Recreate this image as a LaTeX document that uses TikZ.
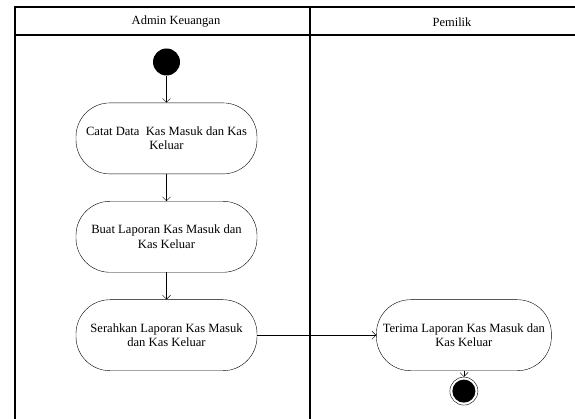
\documentclass[tikz,border=0pt]{standalone}
\usepackage{fontspec}
\setmainfont{Liberation Serif}
\usetikzlibrary{arrows.meta, positioning, shapes.geometric}

\begin{document}
\begin{tikzpicture}[x=1pt, y=-1pt, node distance=27pt,
    lane/.style={line width=2pt},
    lanetitle/.style={font=\fontsize{12.5}{14}\selectfont},
    activity/.style={rectangle, draw, rounded corners=34pt, minimum width=181pt, minimum height=71pt, align=center, inner sep=2pt, font=\fontsize{12.6}{14.3}\selectfont},
    startnode/.style={circle, fill=black, minimum size=27pt, inner sep=0pt},
    endnode/.style={circle, draw, minimum size=28pt, inner sep=0pt, path picture={\fill (path picture bounding box.center) circle (11.5pt);}},
    flow/.style={-{Straight Barb[length=4pt, width=8pt]}}]

    \useasboundingbox (0,0) rectangle (575,419);

    % swimlanes
    \draw[lane] (14.5,419) |- (576,7.5);
    \draw[lane] (14.5,35) -- (576,35);
    \draw[lane] (309.5,7.5) -- (309.5,419);
    \node[lanetitle] (admin) at (176,22) {Admin Keuangan};
    \node[lanetitle] (pemilik) at (452,22) {Pemilik};

    \node[startnode] (start) at (166.5,62) {};
    \node[activity, below=of start] (catat) {Catat Data\ \ Kas Masuk dan Kas\\Keluar};
    \node[activity, below=of catat] (buat) {Buat Laporan Kas Masuk dan\\Kas Keluar};
    \node[activity, below=of buat] (serahkan) {Serahkan Laporan Kas Masuk\\dan Kas Keluar};
    \node[activity, right=119pt of serahkan, minimum width=175pt] (terima) {Terima Laporan Kas Masuk dan\\Kas Keluar};
    \node[endnode, below=6pt of terima] (finish) {};

    \draw[flow] (start) -- (catat);
    \draw[flow] (catat) -- (buat);
    \draw[flow] (buat) -- (serahkan);
    \draw[flow] (serahkan) -- (terima);
    \draw[flow] (terima) -- (finish);
\end{tikzpicture}
\end{document}
